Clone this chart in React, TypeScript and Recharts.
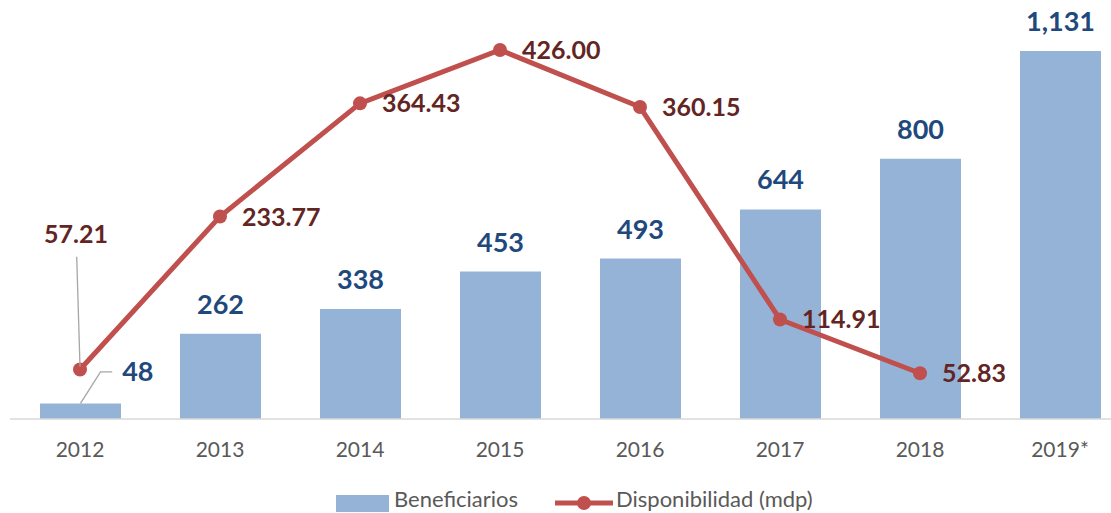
import { ComposedChart, Bar, Line, XAxis, YAxis, Legend, LabelList } from "recharts";

const years = ["2012", "2013", "2014", "2015", "2016", "2017", "2018", "2019*"];
const beneficiarios = [48, 262, 338, 453, 493, 644, 800, 1131];
const disponibilidad: (number | null)[] = [57.21, 233.77, 364.43, 426.0, 360.15, 114.91, 52.83, null];

const data = years.map((year, i) => ({
  year,
  beneficiarios: beneficiarios[i],
  disponibilidad: disponibilidad[i],
}));

const BAR_COLOR = "#95B3D7";
const LINE_COLOR = "#C0504D";
const BAR_TEXT = "#1F497D";
const LINE_TEXT = "#632523";
const GRAY = "#595959";
const LEADER = "#A6A6A6";
const FONT = "Lato, 'Open Sans', sans-serif";

function BarValueLabel(props: any) {
  const { x, y, width, value, index } = props;
  if (value == null) return null;
  const cx = x + width / 2;
  const text = Number(value).toLocaleString("en-US");
  // first bar is too short, label sits to the side with a leader line
  if (index === 0) {
    return (
      <g>
        <polyline
          points={`${cx},${y} ${cx + 20},${y - 31.6} ${cx + 31.7},${y - 31.6}`}
          fill="none"
          stroke={LEADER}
          strokeWidth={1.3}
        />
        <text x={cx + 41.7} y={y - 22} fill={BAR_TEXT} fontSize={27} fontWeight={700} fontFamily={FONT}>
          {text}
        </text>
      </g>
    );
  }
  return (
    <text x={cx} y={y - 20} textAnchor="middle" fill={BAR_TEXT} fontSize={27} fontWeight={700} fontFamily={FONT}>
      {text}
    </text>
  );
}

function LineValueLabel(props: any) {
  const { x, y, value, index } = props;
  if (value == null) return null;
  const text = Number(value).toFixed(2);
  if (index === 0) {
    return (
      <g>
        <line x1={x - 3.3} y1={y - 112.6} x2={x} y2={y - 3} stroke={LEADER} strokeWidth={1.3} />
        <text x={x - 4} y={y - 126} textAnchor="middle" fill={LINE_TEXT} fontSize={25} fontWeight={700} fontFamily={FONT}>
          {text}
        </text>
      </g>
    );
  }
  return (
    <text x={x + 22} y={y + 9} fill={LINE_TEXT} fontSize={25} fontWeight={700} fontFamily={FONT}>
      {text}
    </text>
  );
}

function LegendContent() {
  const textStyle = { position: "absolute" as const, top: 4, lineHeight: "24px" };
  return (
    <div style={{ position: "relative", height: 30, fontFamily: FONT, fontSize: 22, color: GRAY }}>
      <span style={{ position: "absolute", left: 336, top: 12, width: 53, height: 17, background: BAR_COLOR }} />
      <span style={{ ...textStyle, left: 394 }}>Beneficiarios</span>
      <svg width={58} height={18} style={{ position: "absolute", left: 555, top: 11 }}>
        <line x1={0} y1={9} x2={58} y2={9} stroke={LINE_COLOR} strokeWidth={5} />
        <circle cx={29} cy={9} r={7} fill={LINE_COLOR} />
      </svg>
      <span style={{ ...textStyle, left: 616 }}>Disponibilidad (mdp)</span>
    </div>
  );
}

export default function App() {
  return (
    <div style={{ position: "absolute", left: 0, top: 0, width: 1111, height: 513, overflow: "hidden", background: "#fff" }}>
      <ComposedChart width={1130} height={513} data={data} margin={{ top: 50, right: 0, left: 10, bottom: 0 }}>
        <XAxis
          dataKey="year"
          axisLine={{ stroke: "#D9D9D9", strokeWidth: 1.5 }}
          tickLine={false}
          tickSize={0}
          tickMargin={23}
          height={64}
          tick={{ fill: GRAY, fontSize: 21, fontFamily: FONT }}
          interval={0}
        />
        <YAxis yAxisId="bars" hide domain={[0, 1134]} />
        <YAxis yAxisId="line" hide orientation="right" domain={[0, 426]} />
        <Legend verticalAlign="bottom" height={30} wrapperStyle={{ left: 0, width: 1111 }} content={<LegendContent />} />
        <Bar yAxisId="bars" dataKey="beneficiarios" name="Beneficiarios" fill={BAR_COLOR} barSize={81} isAnimationActive={false}>
          <LabelList dataKey="beneficiarios" content={<BarValueLabel />} />
        </Bar>
        <Line
          yAxisId="line"
          dataKey="disponibilidad"
          name="Disponibilidad (mdp)"
          stroke={LINE_COLOR}
          strokeWidth={5}
          dot={{ r: 7, fill: LINE_COLOR, stroke: LINE_COLOR, strokeWidth: 0 }}
          activeDot={false}
          isAnimationActive={false}
        >
          <LabelList dataKey="disponibilidad" content={<LineValueLabel />} />
        </Line>
      </ComposedChart>
    </div>
  );
}
